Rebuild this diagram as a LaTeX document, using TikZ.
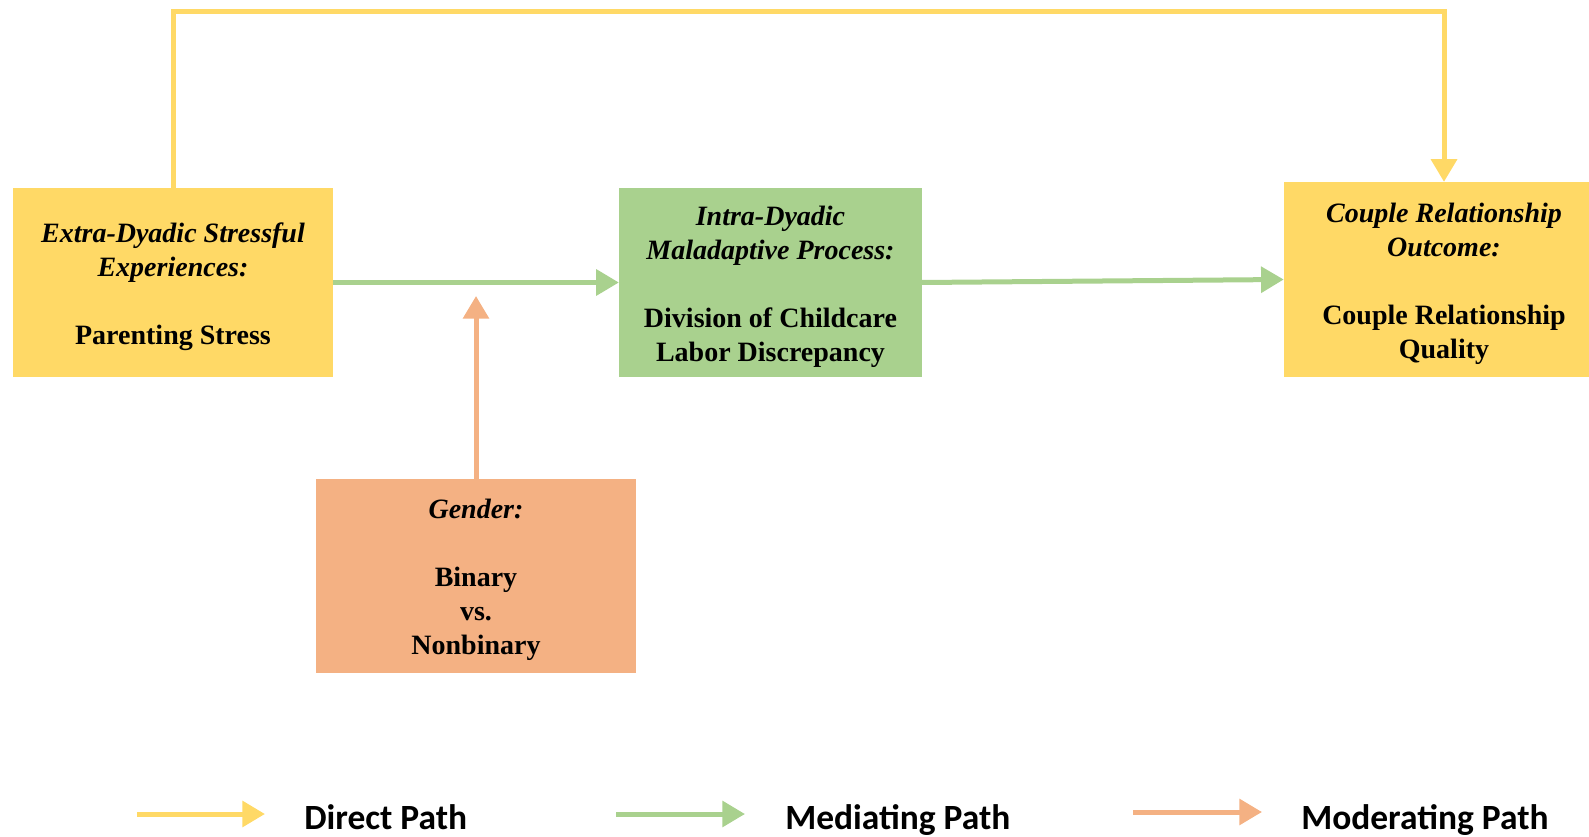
\documentclass[tikz,border=0pt]{standalone}
\usepackage{fontspec}
\setmainfont{Liberation Serif}
\newfontfamily\legendfont{Carlito}
\usepackage{xcolor}
\definecolor{gold}{HTML}{FFD966}
\definecolor{sage}{HTML}{A9D18E}
\definecolor{peach}{HTML}{F4B183}
\usepackage{tikz}
\usetikzlibrary{positioning,arrows.meta}
\newcommand{\boxstrut}{\rule{0pt}{21pt}}

\begin{document}
\begin{tikzpicture}[x=0.75pt,y=-0.75pt,
	box/.style={rectangle,inner sep=0pt,align=center,minimum width=240pt,minimum height=142pt,
		font=\bfseries\fontsize{21}{25.5}\selectfont},
	arrowline/.style={line width=3.75pt,-{Triangle[length=17pt,width=19pt]}},
	directpath/.style={arrowline,draw=gold},
	mediatepath/.style={arrowline,draw=sage},
	moderatepath/.style={arrowline,draw=peach},
	legend/.style={anchor=base west,inner sep=0pt,font=\legendfont\bfseries\fontsize{26.6}{32}\selectfont}]
	% frame of the picture
	\useasboundingbox (0,0) rectangle (1589,837);
	\clip (0,0) rectangle (1589,837);
	
	% draw boxes
	\node[box,fill=gold] (extra) at (173,282.5)
	{\boxstrut\textit{Extra-Dyadic Stressful}\\ \textit{Experiences:}\\[25.5pt] Parenting Stress};
	\node[box,fill=sage,minimum width=227pt] (intra) at (770.5,282.5)
	{\boxstrut\textit{Intra-Dyadic}\\ \textit{Maladaptive Process:}\\[25.5pt] Division of Childcare\\ Labor Discrepancy};
	\node[box,fill=gold,minimum height=146pt] (couple) at (1444,279.5)
	{\boxstrut\textit{Couple Relationship}\\ \textit{Outcome:}\\[25.5pt] Couple Relationship\\ Quality};
	\node[box,fill=peach,minimum height=145.5pt] (gender) at (476,576)
	{\boxstrut\textit{Gender:}\\[25.5pt] Binary\\ vs.\\ Nonbinary};
	
	% draw paths
	\coordinate (top) at (0,12);
	\coordinate (modtip) at (476,296);
	\draw[directpath] (extra.north) -- (extra.north |- top) -| (couple.north);
	\draw[mediatepath] (extra.east) -- (intra.west);
	\draw[mediatepath] (intra.east) -- (couple.west);
	\draw[moderatepath] (gender.north) -- (modtip);
	
	%%% legend
	\coordinate (d1) at (137,814); \coordinate (d2) at (265,814);
	\coordinate (m1) at (616,814); \coordinate (m2) at (745,814);
	\coordinate (o1) at (1133,812); \coordinate (o2) at (1262,812);
	\draw[directpath] (d1) -- (d2);
	\draw[mediatepath] (m1) -- (m2);
	\draw[moderatepath] (o1) -- (o2);
	\node[legend] (directlbl) at (304,829) {Direct Path};
	\node[legend] (mediatelbl) at (785,829) {Mediating Path};
	\node[legend] (moderatelbl) at (1301,829) {Moderating Path};
\end{tikzpicture}
\end{document}
